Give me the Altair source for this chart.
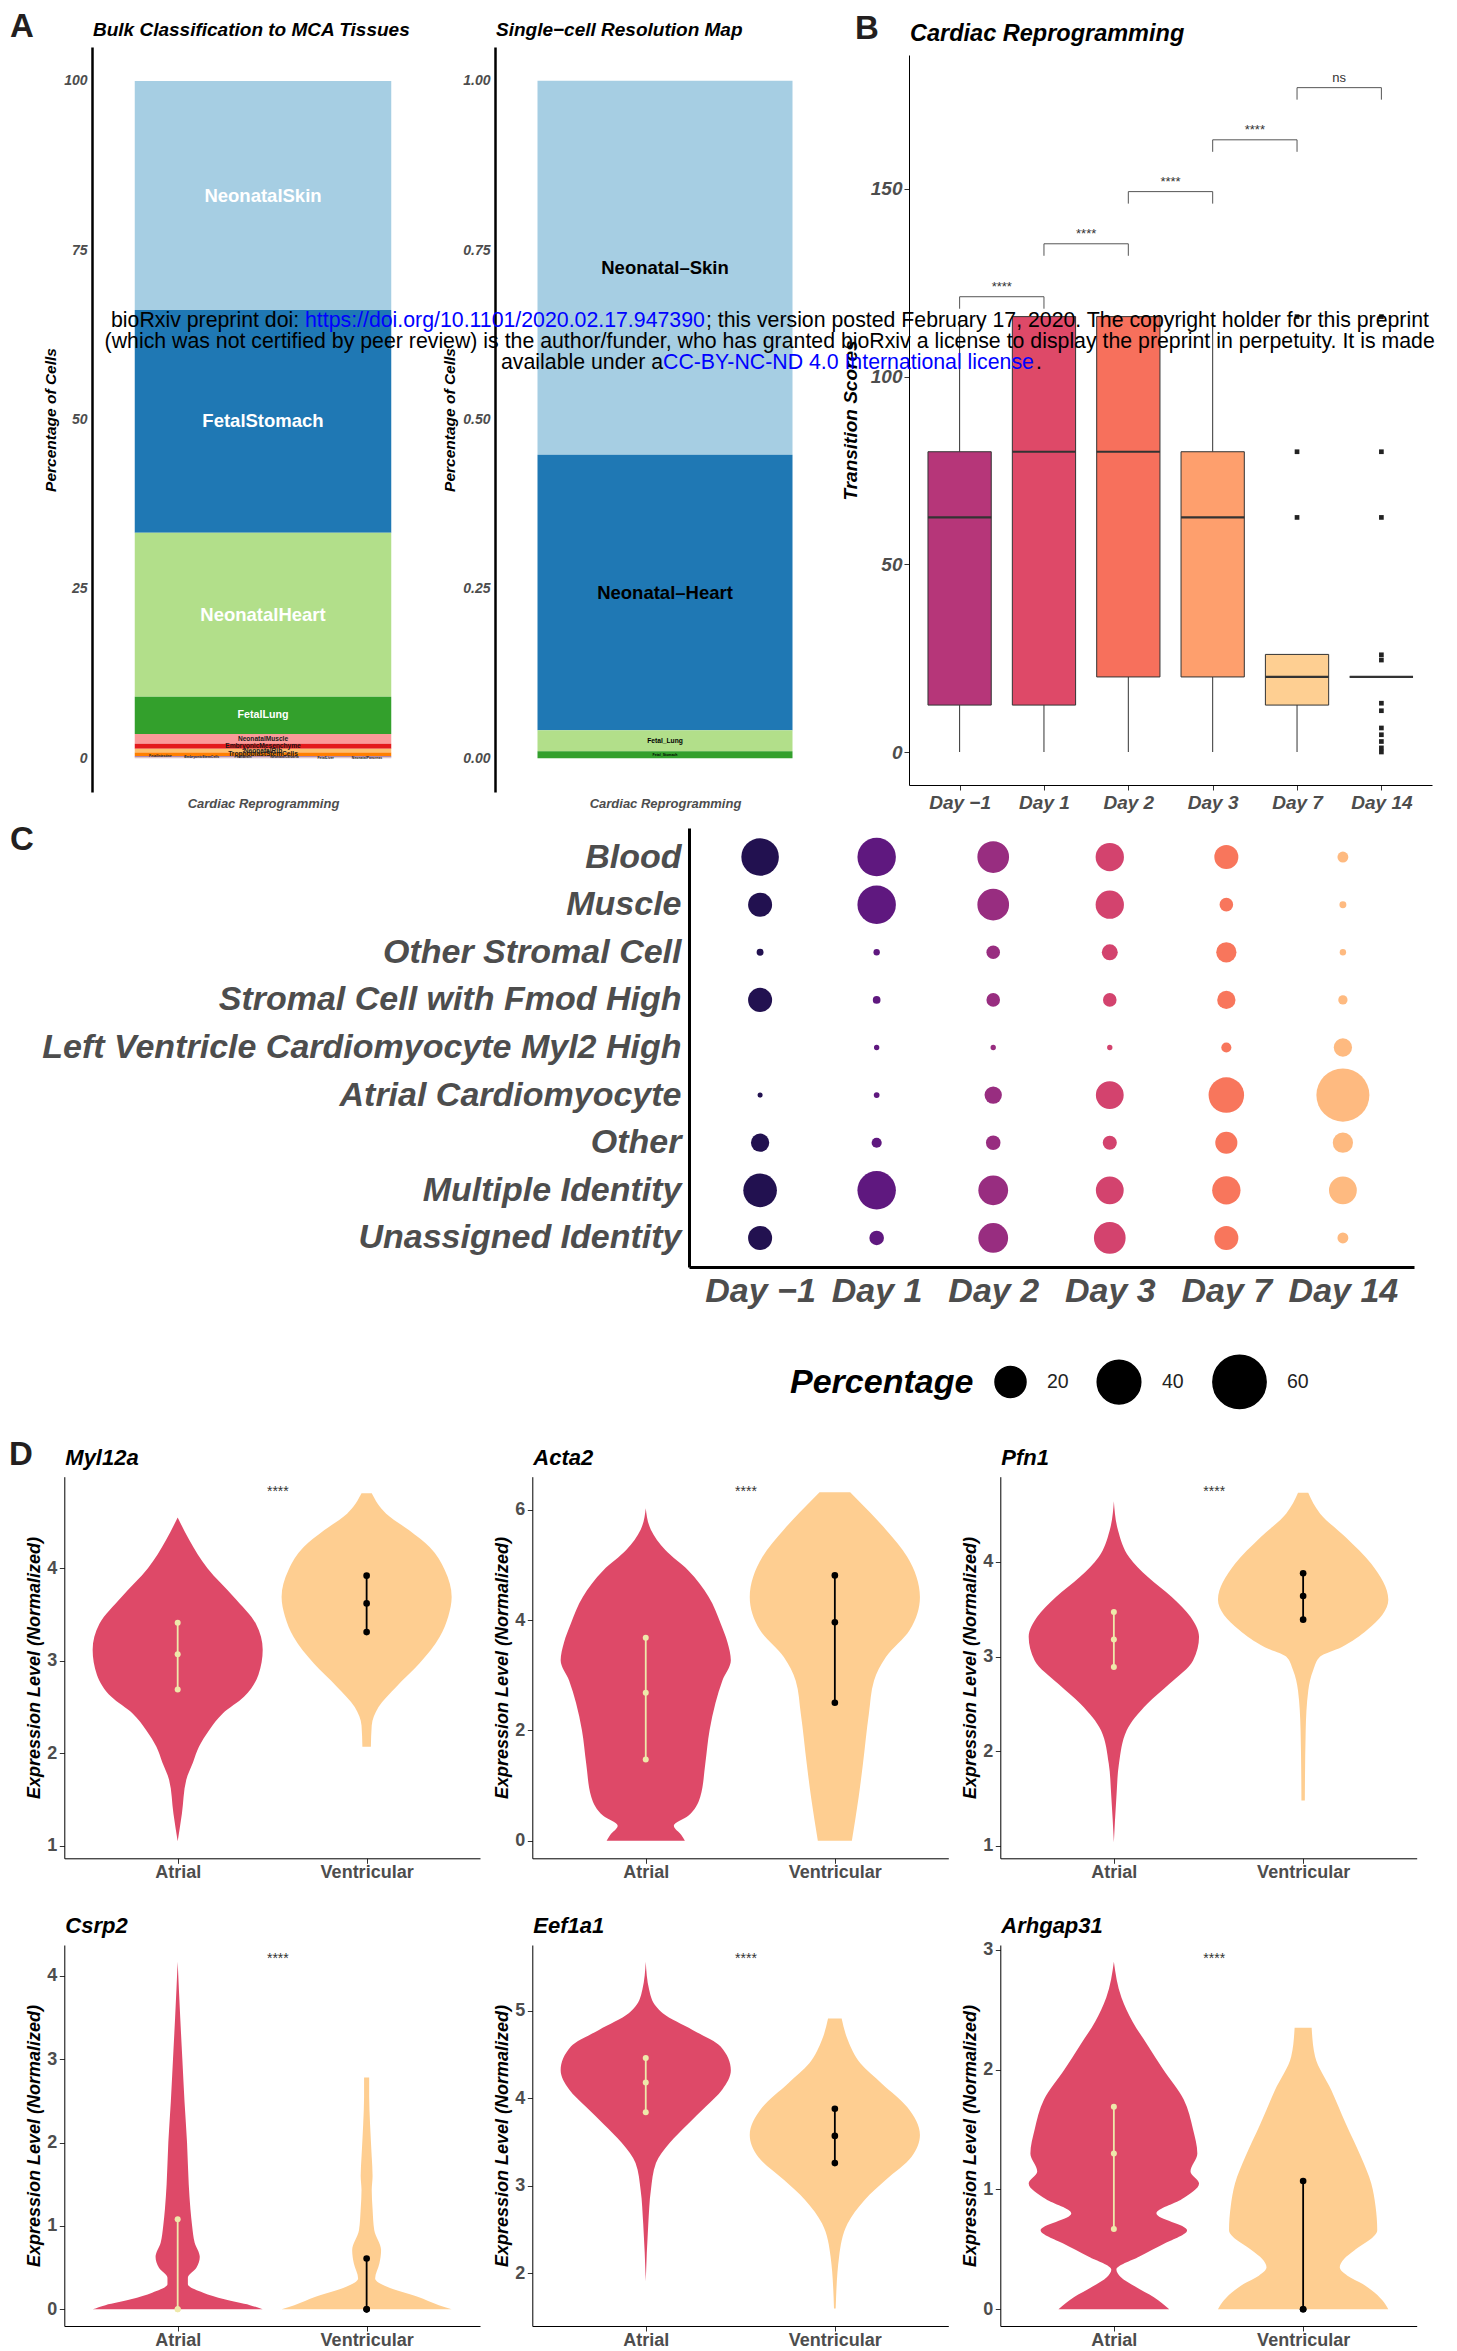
import json
import altair as alt
import pandas as pd

FONT = "Liberation Sans"
GRAY = "#4d4d4d"
INK = "#231f20"
W, H = 1441, 2343          # drawing canvas (page minus the 8px margin)

# ---------------- Panel A data ----------------
BULK_TISSUES = ["NeonatalSkin", "FetalStomach", "NeonatalHeart", "FetalLung",
                "NeonatalMuscle", "EmbryonicMesenchyme", "NeonatalRib", "TrophoblastStemCells",
                "FetalIntestine", "EmbryonicStemCells", "FetalBrain", "NeonatalCalvaria",
                "FetalLiver", "NeonatalPancreas"]
BULK_PCT = [33.8, 32.9, 24.2, 5.5, 1.44, 0.73, 0.58, 0.53, 0.06, 0.05, 0.05, 0.05, 0.04, 0.04]
BULK_COLORS = ["#a6cee3", "#1f78b4", "#b2df8a", "#33a02c", "#fb9a99", "#e31a1c", "#fdbf6f",
               "#ff7f00", "#cab2d6", "#6a3d9a", "#ffff99", "#b15928", "#cab2d6", "#cab2d6"]
BULK_TICKS = [0, 25, 50, 75, 100]

SC_TISSUES = ["Neonatal–Skin", "Neonatal–Heart", "Fetal_Lung", "Fetal_Stomach"]
SC_FRAC = [0.552, 0.407, 0.031, 0.010]
SC_COLORS = ["#a6cee3", "#1f78b4", "#b2df8a", "#33a02c"]
SC_TICKS = [0, 0.25, 0.5, 0.75, 1.0]

# ---------------- Panel B data ----------------
DAYS = ["Day −1", "Day 1", "Day 2", "Day 3", "Day 7", "Day 14"]
BOX_COLORS = ["#B63679", "#DE4968", "#F7705C", "#FE9F6D", "#FECF92", "#FCFDBF"]
BOX_MIN = [0, 0, 0, 0, 0, 20]
BOX_Q1 = [12.5, 12.5, 20, 20, 12.5, 20]
BOX_MED = [62.5, 80, 80, 62.5, 20, 20]
BOX_Q3 = [80, 116, 116, 80, 26, 20]
BOX_MAX = [116, 116, 116, 116, 26, 20]
OUT_DAY = ["Day 7"] * 3 + ["Day 14"] * 12
OUT_VAL = [62.5, 80, 116, 0, 1.1, 2.8, 4.6, 6.4, 11, 13, 24.5, 25.9, 62.5, 80, 116]
BRK_FROM = ["Day −1", "Day 1", "Day 2", "Day 3", "Day 7"]
BRK_TO = ["Day 1", "Day 2", "Day 3", "Day 7", "Day 14"]
BRK_Y = [121.3, 135.4, 149.3, 163.1, 177.0]
BRK_LAB = ["****", "****", "****", "****", "ns"]
B_TICKS = [0, 50, 100, 150]

# ---------------- Panel C data ----------------
CELL_TYPES = ["Blood", "Muscle", "Other Stromal Cell", "Stromal Cell with Fmod High",
              "Left Ventricle Cardiomyocyte Myl2 High", "Atrial Cardiomyocyte", "Other",
              "Multiple Identity", "Unassigned Identity"]
PCT_BLOOD = [29.5, 31.0, 20.9, 16.6, 11.8, 2.0]
PCT_MUSCLE = [11.8, 31.0, 20.9, 16.6, 3.4, 0.5]
PCT_OTHER_STROMAL = [0.5, 0.33, 3.4, 4.9, 8.2, 0.33]
PCT_FMOD = [11.8, 0.73, 3.4, 3.4, 6.6, 1.3]
PCT_LV = [None, 0.08, 0.08, 0.08, 1.65, 6.6]
PCT_ATRIAL = [0.01, 0.18, 5.9, 16.0, 26.4, 59.5]
PCT_OTHER = [6.6, 1.65, 4.0, 3.7, 9.9, 8.2]
PCT_MULTIPLE = [23.6, 31.0, 18.4, 16.0, 16.6, 16.0]
PCT_UNASSIGNED = [11.8, 4.0, 18.4, 20.9, 11.8, 2.0]
DOT_COLORS = ["#221150", "#5F187F", "#982D80", "#D3436E", "#F8765C", "#FEBA80"]
LEGEND_VALUES = [20, 40, 60]

# ---------------- Panel D data ----------------
GROUPS = ["Atrial", "Ventricular"]
GROUP_COLORS = ["#DE4968", "#FECE91"]

MYL12A_A_Y = [1.05, 1.35, 1.71, 1.9, 2.07, 2.25, 2.43, 2.61, 2.85, 3.12, 3.4, 3.69, 4.0, 4.3, 4.55]
MYL12A_A_W = [0, 0.05, 0.1, 0.18, 0.25, 0.37, 0.53, 0.78, 0.95, 1.0, 0.92, 0.66, 0.35, 0.14, 0]
MYL12A_V_Y = [2.07, 2.3, 2.5, 2.72, 2.97, 3.26, 3.48, 3.69, 3.98, 4.23, 4.41, 4.59, 4.81]
MYL12A_V_W = [0.05, 0.06, 0.14, 0.35, 0.62, 0.86, 0.96, 1.0, 0.92, 0.74, 0.5, 0.23, 0.06]
MYL12A_A_Q = [2.69, 3.07, 3.41]
MYL12A_V_Q = [3.31, 3.62, 3.92]

ACTA2_A_Y = [0, 0.1, 0.27, 0.45, 0.79, 1.4, 2.0, 2.5, 2.9, 3.27, 3.6, 3.94, 4.42, 4.9, 5.27, 5.64, 6.03]
ACTA2_A_W = [0.46, 0.42, 0.33, 0.5, 0.64, 0.7, 0.75, 0.82, 0.9, 1.0, 0.96, 0.88, 0.74, 0.5, 0.23, 0.06, 0]
ACTA2_V_Y = [0, 0.79, 1.39, 2.3, 2.9, 3.33, 3.82, 4.42, 5.15, 5.64, 5.94, 6.32]
ACTA2_V_W = [0.2, 0.28, 0.33, 0.4, 0.46, 0.6, 0.88, 1.0, 0.85, 0.6, 0.42, 0.18]
ACTA2_A_Q = [1.47, 2.68, 3.68]
ACTA2_V_Q = [2.5, 3.96, 4.81]

PFN1_A_Y = [1.04, 1.52, 1.87, 2.22, 2.5, 2.71, 2.96, 3.21, 3.42, 3.63, 3.84, 4.05, 4.33, 4.64]
PFN1_A_W = [0, 0.03, 0.06, 0.15, 0.39, 0.65, 0.93, 1.0, 0.9, 0.68, 0.4, 0.18, 0.05, 0]
PFN1_V_Y = [1.48, 2.22, 2.64, 2.86, 3.0, 3.1, 3.28, 3.6, 3.98, 4.26, 4.51, 4.73]
PFN1_V_W = [0.02, 0.03, 0.06, 0.12, 0.2, 0.45, 0.75, 1.0, 0.8, 0.5, 0.2, 0.06]
PFN1_A_Q = [2.89, 3.18, 3.47]
PFN1_V_Q = [3.39, 3.64, 3.88]

CSRP2_A_Y = [0, 0.05, 0.12, 0.2, 0.3, 0.38, 0.5, 0.63, 0.8, 1.0, 1.2, 1.5, 2.0, 2.5, 3.0, 3.5, 4.17]
CSRP2_A_W = [1.0, 0.85, 0.55, 0.3, 0.12, 0.12, 0.22, 0.26, 0.2, 0.17, 0.15, 0.13, 0.11, 0.08, 0.055, 0.03, 0]
CSRP2_V_Y = [0, 0.05, 0.15, 0.27, 0.37, 0.55, 0.71, 0.95, 1.2, 1.43, 1.6, 1.83, 2.23, 2.55, 2.78]
CSRP2_V_W = [1.0, 0.85, 0.6, 0.24, 0.1, 0.15, 0.17, 0.09, 0.07, 0.06, 0.07, 0.06, 0.04, 0.03, 0.03]
CSRP2_A_Q = [0, 0, 1.08]
CSRP2_V_Q = [0, 0, 0.61]

EEF1A1_A_Y = [1.91, 2.57, 2.95, 3.26, 3.49, 3.71, 3.9, 4.1, 4.32, 4.59, 4.78, 4.97, 5.05, 5.24, 5.56]
EEF1A1_A_W = [0, 0.03, 0.06, 0.12, 0.28, 0.5, 0.7, 0.9, 1.0, 0.88, 0.55, 0.2, 0.12, 0.04, 0]
EEF1A1_V_Y = [1.6, 2.19, 2.57, 2.84, 3.07, 3.33, 3.58, 3.9, 4.17, 4.4, 4.67, 4.91]
EEF1A1_V_W = [0.01, 0.05, 0.15, 0.35, 0.6, 0.9, 1.0, 0.85, 0.55, 0.3, 0.15, 0.08]
EEF1A1_A_Q = [3.84, 4.18, 4.46]
EEF1A1_V_Q = [3.26, 3.57, 3.88]

ARHGAP31_A_Y = [0, 0.1, 0.19, 0.27, 0.33, 0.44, 0.55, 0.66, 0.8, 0.92, 1.05, 1.15, 1.3, 1.5, 1.75, 2.0, 2.2, 2.4, 2.6, 2.9]
ARHGAP31_A_W = [0.65, 0.47, 0.25, 0.08, 0.03, 0.3, 0.6, 0.86, 0.5, 0.8, 1.0, 0.9, 0.98, 0.93, 0.82, 0.58, 0.4, 0.22, 0.09, 0]
ARHGAP31_V_Y = [0, 0.075, 0.16, 0.21, 0.28, 0.35, 0.42, 0.49, 0.66, 0.86, 1.05, 1.27, 1.55, 1.83, 2.11, 2.35]
ARHGAP31_V_W = [1.0, 0.93, 0.8, 0.7, 0.52, 0.43, 0.48, 0.6, 0.87, 0.85, 0.8, 0.68, 0.5, 0.33, 0.14, 0.1]
ARHGAP31_A_Q = [0.67, 1.3, 1.69]
ARHGAP31_V_Q = [0, 0, 1.07]

WM_LINE1 = ["bioRxiv preprint doi: ", "https://doi.org/10.1101/2020.02.17.947390",
            "; this version posted February 17, 2020. The copyright holder for this preprint"]
WM_LINE2 = ["(which was not certified by peer review) is the author/funder, who has granted bioRxiv a license to display the preprint in perpetuity. It is made"]
WM_LINE3 = ["available under a", "CC-BY-NC-ND 4.0 International license", "."]


# ---------------- helpers (page px -> canvas px) ----------------
def cx(v):
    return v - 8


def cy(v):
    return v - 8


def txt(text, x, y, size, color="black", weight="normal", style="normal",
        align="left", baseline="middle"):
    """Annotation text placed at page coordinates (x, y)."""
    return alt.Chart(pd.DataFrame({"t": [text]})).mark_text(
        align=align, baseline=baseline, fontSize=size, font=FONT,
        fontWeight=weight, fontStyle=style, color=color
    ).encode(text="t:N", x=alt.value(cx(x)), y=alt.value(cy(y)))


def qs(domain, r0, r1):
    return alt.Scale(domain=domain, range=[r0, r1], nice=False, zero=False)


def left_axis(x_page, **kw):
    return alt.Axis(orient="left", offset=-cx(x_page), grid=False, **kw)


def bottom_axis(y_page, **kw):
    return alt.Axis(orient="bottom", offset=cy(y_page) - H, grid=False, **kw)


layers = []

# ---------------- Panel A ----------------
def stack_layers(names, vals, colors, box, ydom, yvals, yfmt, title, groups, tiny):
    x0, x1, y0, y1 = box
    df = pd.DataFrame({"tissue": names, "val": vals, "rank": list(range(len(names))),
                       "pos": [1] * len(names)})
    base = alt.Chart(df).transform_window(
        cum="sum(val)", sort=[alt.SortField("rank", order="descending")], frame=[None, 0]
    ).transform_calculate(lo="datum.cum - datum.val", mid="datum.cum - datum.val / 2",
                          bl="datum.pos - 0.45", br="datum.pos + 0.45")
    xsc = qs([0.4, 1.6], cx(x0), cx(x1))
    ysc = qs(ydom, cy(y1), cy(y0))
    xax = bottom_axis(y1, title="Cardiac Reprogramming", labels=False, ticks=False, domain=False,
                      titleFontSize=13, titleFontStyle="italic", titleFontWeight="bold",
                      titleColor=GRAY, titlePadding=5)
    yax = left_axis(x0, title="Percentage of Cells", values=yvals, format=yfmt, ticks=False,
                    domainColor="black", domainWidth=2.5, labelFontSize=14, labelFontStyle="italic",
                    labelFontWeight="bold", labelColor=GRAY, labelPadding=5,
                    titleFontSize=15.5, titleFontStyle="italic", titleFontWeight="bold",
                    titleColor="black", titlePadding=5)
    out = [base.mark_rect().encode(
        x=alt.X("bl:Q", scale=xsc, axis=xax), x2="br:Q",
        y=alt.Y("lo:Q", scale=ysc, axis=yax), y2="cum:Q",
        color=alt.Color("tissue:N", scale=alt.Scale(domain=names, range=colors), legend=None))]
    for members, size, color in groups:
        out.append(
            base.transform_filter(alt.FieldOneOfPredicate(field="tissue", oneOf=members))
            .mark_text(fontSize=size, fontWeight="bold", color=color, font=FONT)
            .encode(x=alt.X("pos:Q", scale=xsc, axis=None),
                    y=alt.Y("mid:Q", scale=ysc, axis=None), text="tissue:N"))
    if tiny:
        out.append(
            base.transform_filter(alt.FieldOneOfPredicate(field="tissue", oneOf=tiny))
            .transform_calculate(tx=f"datum.pos - 0.36 + (datum.rank - {len(names) - len(tiny)}) * 0.145")
            .mark_text(fontSize=3.5, fontWeight="bold", color="#222", font=FONT)
            .encode(x=alt.X("tx:Q", scale=xsc, axis=None),
                    y=alt.Y("mid:Q", scale=ysc, axis=None), text="tissue:N"))
    out.append(txt(title, x0 + 1, 30, 19, weight="bold", style="italic"))
    return out


layers += stack_layers(
    BULK_TISSUES, BULK_PCT, BULK_COLORS, (92, 434, 47, 792), [-5, 105], BULK_TICKS, "d",
    "Bulk Classification to MCA Tissues",
    [(BULK_TISSUES[:3], 18.5, "white"), (BULK_TISSUES[3:4], 10.7, "white"),
     (BULK_TISSUES[4:8], 6.6, "#1a1a1a")],
    BULK_TISSUES[8:])
layers += stack_layers(
    SC_TISSUES, SC_FRAC, SC_COLORS, (495, 835, 47, 792), [-0.05, 1.05], SC_TICKS, ".2f",
    "Single−cell Resolution Map",
    [(SC_TISSUES[:2], 18.5, "black"), (SC_TISSUES[2:3], 6.7, "black"),
     (SC_TISSUES[3:4], 3.5, "black")],
    None)
layers.append(txt("A", 10, 37, 33, color=INK, weight="bold", baseline="alphabetic"))

# ---------------- Panel B ----------------
days_js = json.dumps(DAYS, ensure_ascii=False)
pos_day = f"indexof({days_js}, datum.day) + 1"
B_BOX = (909, 1432, 55, 785)
bxs = qs([0.4, 6.6], cx(B_BOX[0]), cx(B_BOX[1]))
bys = qs([-8.79, 185.7], cy(B_BOX[3]), cy(B_BOX[2]))
bx_axis = bottom_axis(B_BOX[3], title=None, values=[1, 2, 3, 4, 5, 6],
                      labelExpr=f"{days_js}[datum.value - 1]",
                      labelAngle=0, labelFontSize=19, labelFontStyle="italic", labelFontWeight="bold",
                      labelColor=GRAY, tickColor="#333", tickSize=5, domainColor="black",
                      labelPadding=3, labelOverlap=False)
by_axis = left_axis(B_BOX[0], title="Transition Scores", values=B_TICKS, labelFontSize=19,
                    labelFontStyle="italic", labelFontWeight="bold", labelColor=GRAY,
                    tickColor="#333", tickSize=5, labelPadding=2, domainColor="black",
                    titleFontSize=19, titleFontStyle="italic", titleFontWeight="bold",
                    titleColor="black", titlePadding=10)


def BX(f, axis=None):
    return alt.X(f"{f}:Q", scale=bxs, axis=axis)


def BY(f, axis=None):
    return alt.Y(f"{f}:Q", scale=bys, axis=axis)


box_df = pd.DataFrame({"day": DAYS, "mn": BOX_MIN, "q1": BOX_Q1, "med": BOX_MED,
                       "q3": BOX_Q3, "mx": BOX_MAX})
bbase = alt.Chart(box_df).transform_calculate(pos=pos_day).transform_calculate(
    lo="datum.pos - 0.375", hi="datum.pos + 0.375")
layers.append(bbase.mark_rule(color="#333", strokeWidth=1).encode(
    x=BX("pos", bx_axis), y=BY("mn", by_axis), y2="q1:Q"))
layers.append(bbase.mark_rule(color="#333", strokeWidth=1).encode(x=BX("pos"), y=BY("q3"), y2="mx:Q"))
layers.append(bbase.mark_rect(stroke="#333", strokeWidth=1).encode(
    x=BX("lo"), x2="hi:Q", y=BY("q1"), y2="q3:Q",
    color=alt.Color("day:N", scale=alt.Scale(domain=DAYS, range=BOX_COLORS), legend=None)))
layers.append(bbase.mark_rule(color="#333", strokeWidth=2.2).encode(x=BX("lo"), x2="hi:Q", y=BY("med")))
layers.append(alt.Chart(pd.DataFrame({"day": OUT_DAY, "v": OUT_VAL})).transform_calculate(
    pos=pos_day).mark_square(color="#222", size=22, opacity=1).encode(x=BX("pos"), y=BY("v")))
brk = alt.Chart(pd.DataFrame({"a": BRK_FROM, "b": BRK_TO, "by": BRK_Y, "lab": BRK_LAB})).transform_calculate(
    pa=f"indexof({days_js}, datum.a) + 1", pb=f"indexof({days_js}, datum.b) + 1"
).transform_calculate(pm="(datum.pa + datum.pb) / 2")
layers.append(brk.mark_rule(color="#555", strokeWidth=1).encode(x=BX("pa"), x2="pb:Q", y=BY("by")))
layers.append(brk.mark_rule(color="#555", strokeWidth=1, y2Offset=12).encode(x=BX("pa"), y=BY("by"), y2="by:Q"))
layers.append(brk.mark_rule(color="#555", strokeWidth=1, y2Offset=12).encode(x=BX("pb"), y=BY("by"), y2="by:Q"))
layers.append(brk.mark_text(baseline="bottom", dy=-3, fontSize=13, color="#333", font=FONT).encode(
    x=BX("pm"), y=BY("by"), text="lab:N"))
layers.append(txt("Cardiac Reprogramming", 910, 34, 23.5, weight="bold", style="italic"))
layers.append(txt("B", 855, 39, 33, color=INK, weight="bold", baseline="alphabetic"))

# ---------------- Panel C ----------------
C_BOX = (689, 1414, 828, 1267)
pct_rows = [PCT_BLOOD, PCT_MUSCLE, PCT_OTHER_STROMAL, PCT_FMOD, PCT_LV, PCT_ATRIAL,
            PCT_OTHER, PCT_MULTIPLE, PCT_UNASSIGNED]
recs = []
for cell, row in zip(CELL_TYPES, pct_rows):
    for day, v in zip(DAYS, row):
        if v is not None:
            recs.append({"cell": cell, "day": day, "pct": v})
dot_df = pd.DataFrame(recs)
layers.append(alt.Chart(dot_df).mark_circle(opacity=1).encode(
    x=alt.X("day:N", scale=alt.Scale(type="point", domain=DAYS, padding=0.61,
                                     range=[cx(C_BOX[0]), cx(C_BOX[1])]),
            axis=bottom_axis(C_BOX[3], title=None, labelAngle=0, labelFontSize=34,
                             labelFontStyle="italic", labelFontWeight="bold", labelColor=GRAY,
                             ticks=False, labelPadding=7, domainColor="black", domainWidth=3,
                             labelOverlap=False)),
    y=alt.Y("cell:N", scale=alt.Scale(type="point", domain=CELL_TYPES, padding=0.61,
                                      range=[cy(C_BOX[2]), cy(C_BOX[3])]),
            axis=left_axis(C_BOX[0], title=None, labelFontSize=34, labelFontStyle="italic",
                           labelFontWeight="bold", labelColor=GRAY, ticks=False, labelPadding=8,
                           labelLimit=1000, domainColor="black", domainWidth=3)),
    size=alt.Size("pct:Q", scale=alt.Scale(domain=[0, 60], range=[25, 2836]),
                  legend=alt.Legend(title="Percentage", orient="none", legendX=cx(790),
                                    legendY=cy(1354), direction="horizontal", titleOrient="left",
                                    values=LEGEND_VALUES, symbolFillColor="black",
                                    symbolStrokeColor="black", symbolOpacity=1,
                                    symbolType="circle", titleLimit=500,
                                    titleFontSize=34, titleFontStyle="italic", titleFontWeight="bold",
                                    titleColor="black", titlePadding=20, titleBaseline="middle",
                                    titleAnchor="middle",
                                    labelFontSize=19.5, labelColor="#222", labelOffset=20,
                                    columnPadding=25)),
    color=alt.Color("day:N", scale=alt.Scale(domain=DAYS, range=DOT_COLORS), legend=None),
))
layers.append(txt("C", 10, 850, 33, color=INK, weight="bold", baseline="alphabetic"))

# ---------------- Panel D ----------------
groups_js = json.dumps(GROUPS)
pos_grp = f"indexof({groups_js}, datum.group) + 1"


def violin_layers(gene, a_y, a_w, v_y, v_w, a_q, v_q, ydom, yticks, star_y, box):
    x0, x1, y0, y1 = box
    xsc = qs([0.4, 2.6], cx(x0), cx(x1))
    ysc = qs(ydom, cy(y1), cy(y0))
    xax = bottom_axis(y1, title=None, values=[1, 2], labelExpr=f"{groups_js}[datum.value - 1]",
                      labelFontSize=18, labelFontWeight="bold", labelColor=GRAY, tickColor="#333",
                      tickSize=5, labelPadding=0, domainColor="black")
    yax = left_axis(x0, title="Expression Level (Normalized)", values=yticks, format="d",
                    labelFontSize=18, labelFontWeight="bold", labelColor=GRAY, tickColor="#333",
                    tickSize=5, labelPadding=2.5, domainColor="black",
                    titleFontSize=18, titleFontStyle="italic", titleFontWeight="bold",
                    titleColor="black", titlePadding=3)
    out = []
    first = True
    for g, ys, ws, col in [("Atrial", a_y, a_w, GROUP_COLORS[0]), ("Ventricular", v_y, v_w, GROUP_COLORS[1])]:
        vdf = pd.DataFrame({"group": [g] * len(ys), "val": ys, "wid": ws})
        out.append(alt.Chart(vdf).transform_calculate(pos=pos_grp).transform_calculate(
            lo="datum.pos - 0.45 * datum.wid", hi="datum.pos + 0.45 * datum.wid"
        ).mark_area(orient="horizontal", color=col, opacity=1, interpolate="monotone").encode(
            y=alt.Y("val:Q", scale=ysc, axis=yax if first else None),
            x=alt.X("lo:Q", scale=xsc, axis=xax if first else None), x2="hi:Q"))
        first = False
    sdf = pd.DataFrame({"group": GROUPS, "q1": [a_q[0], v_q[0]], "med": [a_q[1], v_q[1]],
                        "q3": [a_q[2], v_q[2]]})
    sbase = alt.Chart(sdf).transform_calculate(pos=pos_grp)
    for g, col, sz in [("Atrial", "#EEE8AA", 36), ("Ventricular", "black", 44)]:
        f = sbase.transform_filter(alt.datum.group == g)
        out.append(f.mark_rule(color=col, strokeWidth=1.8).encode(
            x=alt.X("pos:Q", scale=xsc, axis=None), y=alt.Y("q1:Q", scale=ysc, axis=None), y2="q3:Q"))
        out.append(f.transform_fold(["q1", "med", "q3"], as_=["stat", "qv"]).mark_circle(
            color=col, size=sz, opacity=1).encode(
            x=alt.X("pos:Q", scale=xsc, axis=None), y=alt.Y("qv:Q", scale=ysc, axis=None)))
    out.append(alt.Chart(pd.DataFrame({"sx": [1.53], "sy": [star_y], "t": ["****"]})).mark_text(
        fontSize=14, color="#333", font=FONT).encode(
        x=alt.X("sx:Q", scale=xsc, axis=None), y=alt.Y("sy:Q", scale=ysc, axis=None), text="t:N"))
    out.append(txt(gene, x0 + 1, y0 - 19, 22, weight="bold", style="italic"))
    return out


ROW1_Y = (1476.7, 1858.3)
ROW2_Y = (1945, 2326)
COL_X = [(64.3, 480), (532.3, 948.3), (1000.3, 1416.7)]
layers += violin_layers("Myl12a", MYL12A_A_Y, MYL12A_A_W, MYL12A_V_Y, MYL12A_V_W, MYL12A_A_Q, MYL12A_V_Q,
                        [0.865, 4.99], [1, 2, 3, 4], 4.83, (*COL_X[0], *ROW1_Y))
layers += violin_layers("Acta2", ACTA2_A_Y, ACTA2_A_W, ACTA2_V_Y, ACTA2_V_W, ACTA2_A_Q, ACTA2_V_Q,
                        [-0.32, 6.6], [0, 2, 4, 6], 6.33, (*COL_X[1], *ROW1_Y))
layers += violin_layers("Pfn1", PFN1_A_Y, PFN1_A_W, PFN1_V_Y, PFN1_V_W, PFN1_A_Q, PFN1_V_Q,
                        [0.87, 4.9], [1, 2, 3, 4], 4.74, (*COL_X[2], *ROW1_Y))
layers += violin_layers("Csrp2", CSRP2_A_Y, CSRP2_A_W, CSRP2_V_Y, CSRP2_V_W, CSRP2_A_Q, CSRP2_V_Q,
                        [-0.2, 4.37], [0, 1, 2, 3, 4], 4.2, (*COL_X[0], *ROW2_Y))
layers += violin_layers("Eef1a1", EEF1A1_A_Y, EEF1A1_A_W, EEF1A1_V_Y, EEF1A1_V_W, EEF1A1_A_Q, EEF1A1_V_Q,
                        [1.40, 5.75], [2, 3, 4, 5], 5.59, (*COL_X[1], *ROW2_Y))
layers += violin_layers("Arhgap31", ARHGAP31_A_Y, ARHGAP31_A_W, ARHGAP31_V_Y, ARHGAP31_V_W, ARHGAP31_A_Q,
                        ARHGAP31_V_Q, [-0.14, 3.04], [0, 1, 2, 3], 2.92, (*COL_X[2], *ROW2_Y))
layers.append(txt("D", 9, 1465, 33, color=INK, weight="bold", baseline="alphabetic"))

# ---------------- bioRxiv watermark (drawn last, on top) ----------------
for piece, x, color in zip(WM_LINE1, [111, 305, 706], ["black", "#0000ff", "black"]):
    layers.append(txt(piece, x, 320.6, 21.3, color=color))
for piece, x, color in zip(WM_LINE2, [104.6], ["black"]):
    layers.append(txt(piece, x, 341.5, 21.3, color=color))
for piece, x, color in zip(WM_LINE3, [501, 663, 1036], ["black", "#0000ff", "black"]):
    layers.append(txt(piece, x, 363, 21.3, color=color))

chart = alt.layer(*layers).resolve_scale(
    x="independent", y="independent", color="independent", size="independent"
).resolve_axis(x="independent", y="independent").properties(
    width=W, height=H, padding=0
).configure_view(stroke=None).configure_axis(
    labelFont=FONT, titleFont=FONT, grid=False
).configure_legend(labelFont=FONT, titleFont=FONT).configure_text(font=FONT)

chart.save("out.html", embed_options={"renderer": "svg", "actions": False})
